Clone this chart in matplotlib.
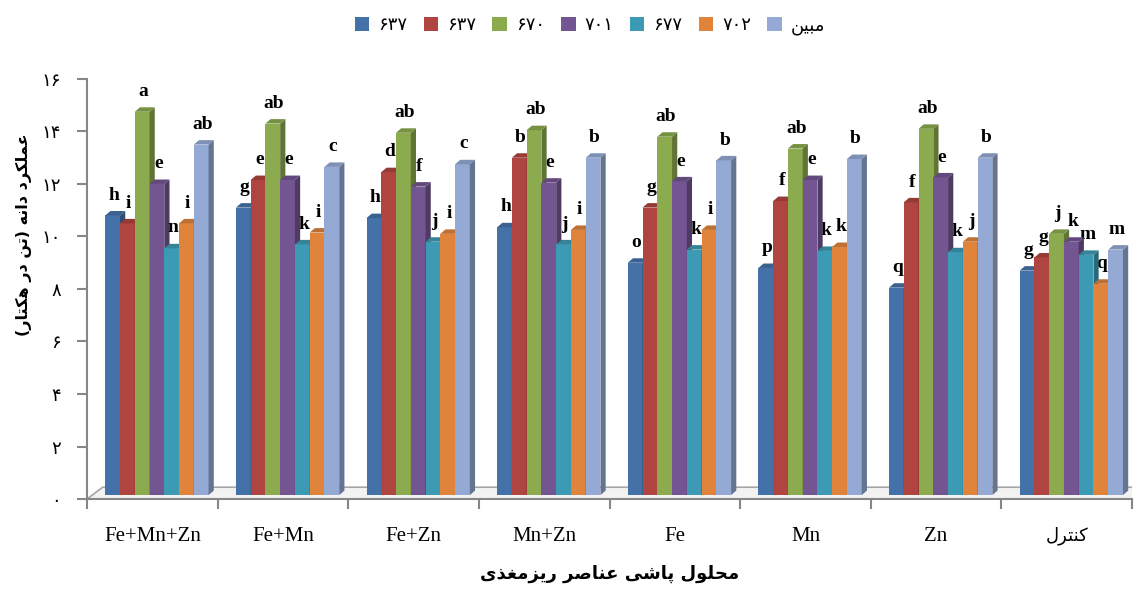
import numpy as np
import matplotlib.pyplot as plt
from matplotlib.patches import Polygon, Patch
import matplotlib.colors as mcolors

# data (grain yield, t/ha)
categories = ['Fe+Mn+Zn', 'Fe+Mn', 'Fe+Zn', 'Mn+Zn', 'Fe', 'Mn', 'Zn', 'کنترل']
series_names = ['۶۳۷', '۶۳۷', '۶۷۰', '۷۰۱', '۶۷۷', '۷۰۲', 'مبین']

v_637a = [10.8, 11.1, 10.7, 10.35, 9.0, 8.8, 8.05, 8.7]
v_637b = [10.5, 12.15, 12.45, 13.0, 11.1, 11.35, 11.3, 9.2]
v_670 = [14.75, 14.3, 13.95, 14.05, 13.8, 13.35, 14.1, 10.1]
v_701 = [12.0, 12.15, 11.9, 12.05, 12.1, 12.15, 12.25, 9.8]
v_677 = [9.55, 9.7, 9.8, 9.7, 9.5, 9.45, 9.4, 9.3]
v_702 = [10.5, 10.15, 10.1, 10.25, 10.25, 9.6, 9.8, 8.2]
v_mobin = [13.5, 12.65, 12.75, 13.0, 12.9, 12.95, 13.0, 9.5]
values = [v_637a, v_637b, v_670, v_701, v_677, v_702, v_mobin]

l_637a = ['h', 'g', 'h', 'h', 'o', 'p', 'q', 'g']
l_637b = ['i', 'e', 'd', 'b', 'g', 'f', 'f', 'g']
l_670 = ['a', 'ab', 'ab', 'ab', 'ab', 'ab', 'ab', 'j']
l_701 = ['e', 'e', 'f', 'e', 'e', 'e', 'e', 'k']
l_677 = ['n', 'k', 'j', 'j', 'k', 'k', 'k', 'm']
l_702 = ['i', 'i', 'i', 'i', 'i', 'k', 'j', 'q']
l_mobin = ['ab', 'c', 'c', 'b', 'b', 'b', 'b', 'm']
letters = [l_637a, l_637b, l_670, l_701, l_677, l_702, l_mobin]

colors = ['#4472A8', '#B04440', '#8CAA4E', '#735592', '#3D9AB4', '#E0843C', '#94AAD4']

y_ticks = [0, 2, 4, 6, 8, 10, 12, 14, 16]
y_ticklabels = ['۰', '۲', '۴', '۶', '۸', '۱۰', '۱۲', '۱۴', '۱۶']

ylabel_text = 'عملکرد دانه (تن در هکتار)'
xlabel_text = 'محلول پاشی عناصر ریزمغذی'

# small Persian shaper (presentation forms + visual order) since matplotlib does no shaping
FORMS = {
    'ا': ('\uFE8D', '\uFE8E', None, None),
    'ب': ('\uFE8F', '\uFE90', '\uFE91', '\uFE92'),
    'پ': ('\uFB56', '\uFB57', '\uFB58', '\uFB59'),
    'ت': ('\uFE95', '\uFE96', '\uFE97', '\uFE98'),
    'ح': ('\uFEA1', '\uFEA2', '\uFEA3', '\uFEA4'),
    'د': ('\uFEA9', '\uFEAA', None, None),
    'ذ': ('\uFEAB', '\uFEAC', None, None),
    'ر': ('\uFEAD', '\uFEAE', None, None),
    'ز': ('\uFEAF', '\uFEB0', None, None),
    'ش': ('\uFEB5', '\uFEB6', '\uFEB7', '\uFEB8'),
    'ص': ('\uFEB9', '\uFEBA', '\uFEBB', '\uFEBC'),
    'ع': ('\uFEC9', '\uFECA', '\uFECB', '\uFECC'),
    'غ': ('\uFECD', '\uFECE', '\uFECF', '\uFED0'),
    'ک': ('\uFB8E', '\uFB8F', '\uFB90', '\uFB91'),
    'ل': ('\uFEDD', '\uFEDE', '\uFEDF', '\uFEE0'),
    'م': ('\uFEE1', '\uFEE2', '\uFEE3', '\uFEE4'),
    'ن': ('\uFEE5', '\uFEE6', '\uFEE7', '\uFEE8'),
    'ه': ('\uFEE9', '\uFEEA', '\uFEEB', '\uFEEC'),
    'و': ('\uFEED', '\uFEEE', None, None),
    'ی': ('\uFBFC', '\uFBFD', '\uFBFE', '\uFBFF'),
}


def fa(text):
    out = []
    for i, ch in enumerate(text):
        if ch not in FORMS:
            out.append(ch)
            continue
        prev = text[i - 1] if i > 0 else ''
        nxt = text[i + 1] if i + 1 < len(text) else ''
        jp = prev in FORMS and FORMS[prev][2] is not None
        jn = nxt in FORMS and FORMS[ch][2] is not None
        iso, fin, ini, med = FORMS[ch]
        if jp and jn:
            out.append(med)
        elif jp:
            out.append(fin)
        elif jn:
            out.append(ini)
        else:
            out.append(iso)
    mirror = {'(': ')', ')': '('}
    return ''.join(mirror.get(c, c) for c in reversed(out))


def fa_label(text):
    # latin labels stay as they are
    return fa(text) if any(c in FORMS for c in text) else text


plt.rcParams.update({
    'font.family': ['DejaVu Sans'],
    'axes.edgecolor': '#868686',
    'xtick.color': '#868686',
    'ytick.color': '#868686',
})

fig = plt.figure(figsize=(11.39, 5.90), dpi=100)
ax = fig.add_axes([0.0764, 0.1542, 0.9175, 0.712])

n_ser = len(values)
w = 0.113
dx = 0.04   # depth of the 3D faces (x units)
dy = 0.17   # depth of the 3D faces (y units)
x = np.arange(len(categories))

# floor
ax.add_patch(Polygon([(-0.5, 0), (-0.5 + 0.12, 0.45), (7.5 + 0.02, 0.45), (7.5 + 0.02, 0)],
                     closed=True, facecolor='#F2F2F2', edgecolor='#A6A6A6', lw=1.2, zorder=1))

z = 2
for g in range(len(categories)):
    for s in range(n_ser):
        h = values[s][g]
        x0 = x[g] + (s - n_ser / 2) * w + 0.035
        base = 0.15
        c = np.array(mcolors.to_rgb(colors[s]))
        ax.bar(x0, h - base, bottom=base, width=w, align='edge', color=colors[s],
               edgecolor='none', zorder=z)
        side = Polygon([(x0 + w, base), (x0 + w + dx, base + dy), (x0 + w + dx, h + dy), (x0 + w, h)],
                       closed=True, facecolor=c * 0.68, edgecolor='none', zorder=z)
        top = Polygon([(x0, h), (x0 + dx, h + dy), (x0 + w + dx, h + dy), (x0 + w, h)],
                      closed=True, facecolor=c * 0.85, edgecolor='none', zorder=z)
        ax.add_patch(side)
        ax.add_patch(top)
        ax.text(x0 + w / 2 + 0.01, h + 0.45, letters[s][g], ha='center', va='bottom',
                family='Liberation Serif', fontweight='bold', fontsize=14, color='black', zorder=20)
        z += 1

ax.set_xlim(-0.5, 7.5)
ax.set_ylim(0, 16)
ax.spines['top'].set_visible(False)
ax.spines['right'].set_visible(False)
ax.spines['left'].set_linewidth(1.5)
ax.spines['bottom'].set_linewidth(1.5)

ax.set_xticks(np.arange(-0.5, 7.6, 1))
ax.set_xticklabels([])
ax.set_xticks(x, minor=True)
ax.set_xticklabels([fa_label(c) for c in categories], minor=True)
ax.tick_params(axis='x', which='major', length=7, width=1.5, direction='out')
ax.tick_params(axis='x', which='minor', length=0, pad=20, labelsize=15, labelcolor='black')
for lab in ax.get_xticklabels(minor=True):
    if lab.get_text() == fa_label(categories[-1]):
        lab.set_family('DejaVu Sans')
        lab.set_fontsize(13)
    else:
        lab.set_family('Liberation Serif')

ax.set_yticks(y_ticks)
ax.set_yticklabels(y_ticklabels)
ax.tick_params(axis='y', length=7, width=1.5, direction='out', pad=12, labelsize=13,
               labelcolor='black')

ax.set_ylabel(fa(ylabel_text), fontsize=11.5, fontweight='bold', color='black')
ax.yaxis.set_label_coords(-0.053, 0.63)
ax.set_xlabel(fa(xlabel_text), fontsize=13, fontweight='bold', color='black', va='center')
ax.xaxis.set_label_coords(0.5, -0.178)

handles = [Patch(facecolor=colors[i], edgecolor='none') for i in range(n_ser)]
fig.legend(handles, [fa_label(n) for n in series_names], loc='upper center',
           bbox_to_anchor=(0.518, 1.0), ncol=n_ser, frameon=False, fontsize=13,
           handlelength=0.8, handleheight=0.8, handletextpad=0.5, columnspacing=0.9)

fig.savefig('out.png', dpi=100)
